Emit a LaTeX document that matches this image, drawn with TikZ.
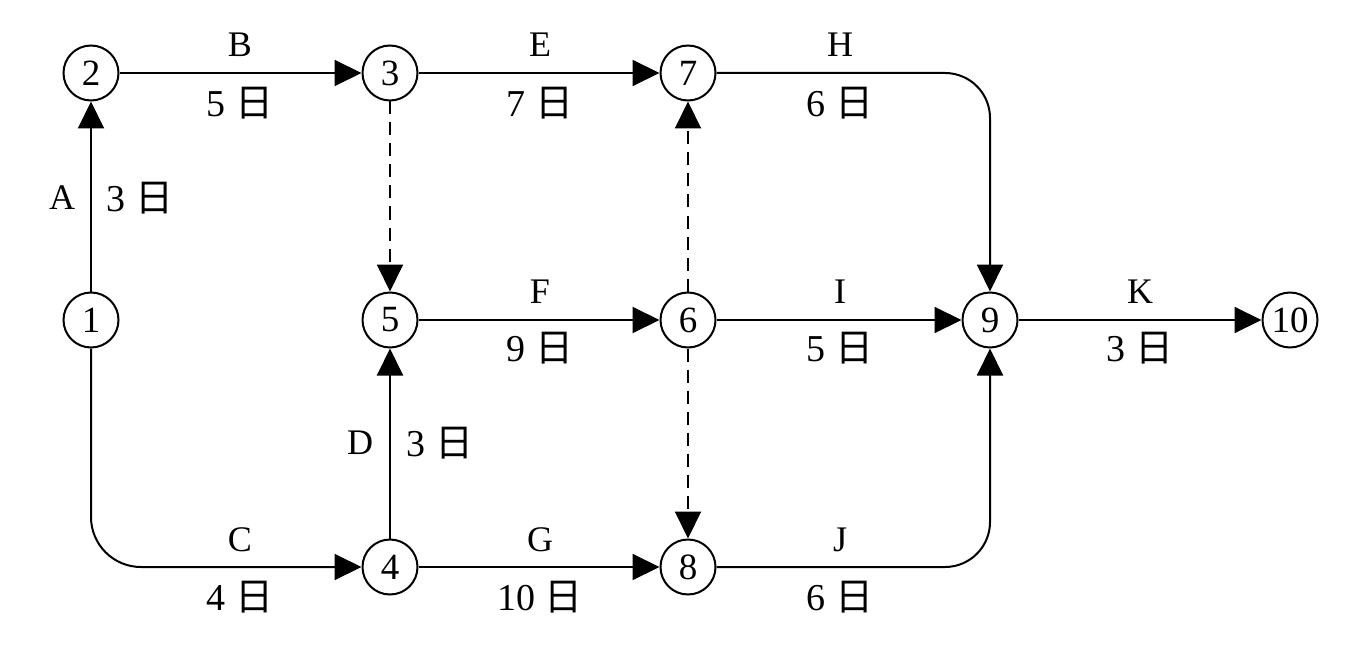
\documentclass[tikz,border=0pt]{standalone}
\usepackage{fontspec}
\setmainfont{Liberation Serif}
\newfontfamily\cjk{Noto Sans CJK SC}[FakeBold=0]
\usetikzlibrary{arrows.meta}
\begin{document}
\begin{tikzpicture}[x=1pt,y=-1pt,
  ev/.style={circle,draw,line width=2pt,minimum size=55pt,inner sep=0pt,font=\fontsize{37}{37}\selectfont},
  con/.style={line width=2pt,-{Triangle[length=27pt,width=26pt]}},
  dum/.style={con,dash pattern=on 13pt off 8pt},
  lt/.style={font=\fontsize{36}{36}\selectfont,inner sep=0pt},
  ld/.style={font=\fontsize{38}{38}\selectfont,inner sep=0pt}]
\useasboundingbox (0,0) rectangle (1370,663);
\node[ev] (n1) at (91,320) {1};
\node[ev] (n2) at (91,73) {2};
\node[ev] (n3) at (390,73) {3};
\node[ev] (n7) at (688,73) {7};
\node[ev] (n5) at (390,320) {5};
\node[ev] (n6) at (688,320) {6};
\node[ev] (n9) at (990,320) {9};
\node[ev] (n10) at (1290,320) {10};
\node[ev] (n4) at (390,567) {4};
\node[ev] (n8) at (688,567) {8};
% connectors
\draw[con] (n1) -- (n2);
\draw[con] (n2) -- (n3);
\draw[con] (n3) -- (n7);
\draw[con,rounded corners=45pt] (n7.east) -| (n9.north);
\draw[dum] (n3) -- (n5);
\draw[dum] (n6) -- (n7);
\draw[dum] (n6) -- (n8);
\draw[con] (n5) -- (n6);
\draw[con] (n6) -- (n9);
\draw[con] (n9) -- (n10);
\draw[con,rounded corners=50pt] (n1.south) |- (n4.west);
\draw[con] (n4) -- (n5);
\draw[con] (n4) -- (n8);
\draw[con,rounded corners=45pt] (n8.east) -| (n9.south);
% labels
\node[lt] (lB) at (240,45) {B};
\node[ld] (dB) at (240,103) {5 {\cjk 日}};
\node[lt] (lE) at (540,45) {E};
\node[ld] (dE) at (540,103) {7 {\cjk 日}};
\node[lt] (lH) at (840,45) {H};
\node[ld] (dH) at (840,103) {6 {\cjk 日}};
\node[lt] (lA) at (62,198) {A};
\node[ld] (dA) at (140,198) {3 {\cjk 日}};
\node[lt] (lF) at (540,292) {F};
\node[ld] (dF) at (540,348) {9 {\cjk 日}};
\node[lt] (lI) at (840,292) {I};
\node[ld] (dI) at (840,348) {5 {\cjk 日}};
\node[lt] (lK) at (1140,292) {K};
\node[ld] (dK) at (1140,348) {3 {\cjk 日}};
\node[lt] (lD) at (360,443) {D};
\node[ld] (dD) at (440,443) {3 {\cjk 日}};
\node[lt] (lC) at (240,540) {C};
\node[ld] (dC) at (240,597) {4 {\cjk 日}};
\node[lt] (lG) at (540,540) {G};
\node[ld] (dG) at (540,597) {10 {\cjk 日}};
\node[lt] (lJ) at (840,540) {J};
\node[ld] (dJ) at (840,597) {6 {\cjk 日}};
\end{tikzpicture}
\end{document}
